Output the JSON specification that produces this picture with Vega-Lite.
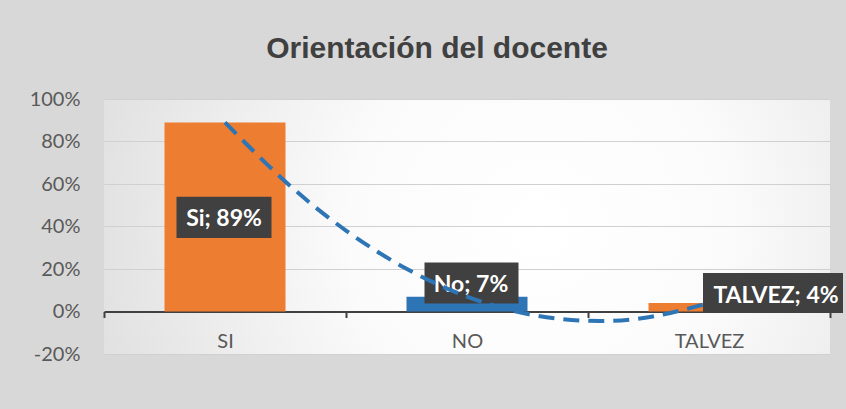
{
  "$schema": "https://vega.github.io/schema/vega-lite/v6.json",
  "width": 726,
  "height": 255,
  "autosize": {"type": "none"},
  "padding": {"left": 104, "top": 99, "right": 16, "bottom": 55},
  "background": "#d8d8d8",
  "title": {
    "text": "Orientación del docente",
    "font": "Liberation Sans",
    "fontSize": 30,
    "fontWeight": "bold",
    "color": "#404040",
    "anchor": "middle",
    "frame": "group",
    "dx": -30,
    "offset": 25
  },
  "config": {
    "view": {
      "stroke": null,
      "fill": {"expr": "{gradient: 'radial', x1: 0.6, y1: 0.5, r1: 0, x2: 0.6, y2: 0.5, r2: 0.75, stops: [{offset: 0, color: '#ffffff'}, {offset: 0.35, color: '#fbfbfb'}, {offset: 1, color: '#d8d8d8'}]}"}
    }
  },
  "datasets": {
    "main": [
      {"cat": "SI", "value": 0.89, "label": "Si; 89%"},
      {"cat": "NO", "value": 0.07, "label": "No; 7%"},
      {"cat": "TALVEZ", "value": 0.04, "label": "TALVEZ; 4%"}
    ],
    "trend": [
      {"x": 1.0, "y": 0.89},
      {"x": 1.25, "y": 0.611},
      {"x": 1.5, "y": 0.381},
      {"x": 1.75, "y": 0.201},
      {"x": 2.0, "y": 0.07},
      {"x": 2.25, "y": -0.012},
      {"x": 2.5, "y": -0.044},
      {"x": 2.75, "y": -0.027},
      {"x": 3.0, "y": 0.04}
    ]
  },
  "layer": [
    {
      "data": {"name": "main"},
      "encoding": {
        "x": {
          "field": "cat",
          "type": "nominal",
          "sort": null,
          "scale": {"domain": ["SI", "NO", "TALVEZ"], "paddingInner": 0, "paddingOuter": 0},
          "axis": {
            "title": null,
            "orient": "bottom",
            "offset": -42.5,
            "grid": false,
            "domainColor": "#404040",
            "domainWidth": 2,
            "tickColor": "#404040",
            "tickWidth": 2,
            "tickSize": 6,
            "tickBand": "extent",
            "labelAngle": 0,
            "labelFont": "Lato",
            "labelFontSize": 20,
            "labelColor": "#595959",
            "labelPadding": 14
          }
        },
        "y": {
          "field": "value",
          "type": "quantitative",
          "scale": {"domain": [-0.2, 1.0], "nice": false, "zero": false},
          "axis": {
            "title": null,
            "values": [-0.2, 0, 0.2, 0.4, 0.6, 0.8, 1.0],
            "format": ".0%",
            "labelExpr": "replace(datum.label, '\u2212', '-')",
            "domain": false,
            "ticks": false,
            "tickSize": 0,
            "grid": true,
            "gridColor": "#d0d0d0",
            "gridWidth": 1,
            "labelFont": "Lato",
            "labelFontSize": 20,
            "labelColor": "#595959",
            "labelPadding": 24
          }
        }
      },
      "layer": [
        {
          "mark": {"type": "bar", "width": {"band": 0.5}},
          "encoding": {
            "color": {
              "field": "cat",
              "type": "nominal",
              "scale": {"domain": ["SI", "NO", "TALVEZ"], "range": ["#ED7D31", "#2E75B6", "#ED7D31"]},
              "legend": null
            }
          }
        },
        {
          "transform": [{"filter": "datum.cat == 'SI'"}],
          "mark": {"type": "point", "shape": "M-1,-0.4316H1V0.4316H-1Z", "size": 9025, "filled": true, "color": "#404040", "opacity": 1, "xOffset": -1, "yOffset": 95}
        },
        {
          "transform": [{"filter": "datum.cat == 'SI'"}],
          "mark": {"type": "text", "font": "Lato", "fontSize": 23, "fontWeight": "bold", "color": "#ffffff", "baseline": "alphabetic", "align": "center", "xOffset": -1, "yOffset": 104},
          "encoding": {"text": {"field": "label"}}
        },
        {
          "transform": [{"filter": "datum.cat == 'NO'"}],
          "mark": {"type": "point", "shape": "M-1,-0.4362H1V0.4362H-1Z", "size": 8836, "filled": true, "color": "#404040", "opacity": 1, "xOffset": 4.5, "yOffset": -13.6}
        },
        {
          "transform": [{"filter": "datum.cat == 'NO'"}],
          "mark": {"type": "text", "font": "Lato", "fontSize": 23, "fontWeight": "bold", "color": "#ffffff", "baseline": "alphabetic", "align": "center", "xOffset": 4, "yOffset": -5},
          "encoding": {"text": {"field": "label"}}
        },
        {
          "transform": [{"filter": "datum.cat == 'TALVEZ'"}],
          "mark": {"type": "point", "shape": "M-1,-0.2857H1V0.2857H-1Z", "size": 19600, "filled": true, "color": "#404040", "opacity": 1, "xOffset": 64, "yOffset": -10}
        },
        {
          "transform": [{"filter": "datum.cat == 'TALVEZ'"}],
          "mark": {"type": "text", "font": "Lato", "fontSize": 23, "fontWeight": "bold", "color": "#ffffff", "baseline": "alphabetic", "align": "center", "xOffset": 67, "yOffset": 0},
          "encoding": {"text": {"field": "label"}}
        }
      ]
    },
    {
      "data": {"name": "trend"},
      "mark": {"type": "line", "color": "#2E75B6", "strokeWidth": 4, "strokeDash": [16, 9], "interpolate": "natural", "strokeCap": "butt"},
      "encoding": {
        "x": {"field": "x", "type": "quantitative", "scale": {"domain": [0.5, 3.5], "nice": false, "zero": false}, "axis": null},
        "y": {"field": "y", "type": "quantitative"}
      }
    }
  ],
  "resolve": {"scale": {"x": "independent"}}
}
